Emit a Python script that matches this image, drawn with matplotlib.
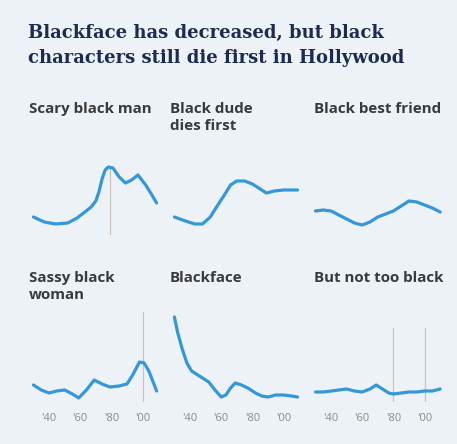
import matplotlib
matplotlib.use("Agg")
import matplotlib.pyplot as plt

# data (relative frequency, arbitrary units)
scary_years = [1930, 1937, 1944, 1952, 1958, 1963, 1967, 1970, 1972, 1974, 1976, 1978,
               1981, 1985, 1989, 1993, 1997, 2002, 2006, 2009]
scary_vals = [1.8, 1.3, 1.1, 1.2, 1.7, 2.3, 2.8, 3.4, 4.3, 5.6, 6.5, 6.8,
              6.7, 5.8, 5.2, 5.5, 6.0, 5.0, 4.0, 3.2]

dude_years = [1930, 1937, 1943, 1948, 1953, 1957, 1962, 1966, 1970, 1975, 1980,
              1985, 1989, 1994, 2000, 2005, 2009]
dude_vals = [1.8, 1.4, 1.1, 1.1, 1.8, 2.8, 4.0, 5.0, 5.4, 5.4, 5.1,
             4.6, 4.2, 4.4, 4.5, 4.5, 4.5]

friend_years = [1930, 1935, 1940, 1945, 1950, 1955, 1960, 1965, 1970, 1975, 1980,
                1985, 1990, 1995, 2000, 2005, 2010]
friend_vals = [2.4, 2.5, 2.4, 2.0, 1.6, 1.2, 1.0, 1.3, 1.8, 2.1, 2.4,
               2.9, 3.4, 3.3, 3.0, 2.7, 2.3]

sassy_years = [1930, 1935, 1940, 1945, 1950, 1955, 1959, 1964, 1969, 1974, 1979,
               1985, 1990, 1994, 1998, 2001, 2004, 2009]
sassy_vals = [1.7, 1.2, 0.9, 1.1, 1.2, 0.8, 0.4, 1.2, 2.2, 1.8, 1.5,
              1.6, 1.8, 2.8, 4.0, 3.9, 3.1, 1.1]

blackface_years = [1930, 1932, 1935, 1938, 1941, 1945, 1949, 1952, 1956, 1960, 1963,
                   1966, 1969, 1973, 1977, 1982, 1986, 1990, 1995, 2000, 2005, 2009]
blackface_vals = [8.5, 7.0, 5.3, 3.9, 3.1, 2.7, 2.3, 2.0, 1.2, 0.5, 0.7,
                  1.4, 1.9, 1.7, 1.4, 0.9, 0.6, 0.5, 0.7, 0.7, 0.6, 0.5]

nottoo_years = [1930, 1935, 1940, 1945, 1950, 1955, 1960, 1965, 1969, 1973, 1977,
                1980, 1985, 1990, 1995, 2000, 2005, 2010]
nottoo_vals = [1.0, 1.0, 1.1, 1.2, 1.3, 1.1, 1.0, 1.3, 1.7, 1.3, 0.9,
               0.8, 0.9, 1.0, 1.0, 1.1, 1.1, 1.3]

# reference lines (year, top value)
scary_marks = [(1979, 6.8)]
sassy_marks = [(2000, 9.0)]
nottoo_marks = [(1980, 7.4), (2000, 7.4)]

titles = [["Scary black man"], ["Black dude", "dies first"], ["Black best friend"],
          ["Sassy black", "woman"], ["Blackface"], ["But not too black"]]
tick_years = [1940, 1960, 1980, 2000]
tick_labels = ["'40", "'60", "'80", "'00"]

panels = [(scary_years, scary_vals, scary_marks),
          (dude_years, dude_vals, []),
          (friend_years, friend_vals, []),
          (sassy_years, sassy_vals, sassy_marks),
          (blackface_years, blackface_vals, []),
          (nottoo_years, nottoo_vals, nottoo_marks)]

BG = "#edf2f7"
BLUE = "#3497da"
W, H = 457, 444

fig = plt.figure(figsize=(W / 100, H / 100), dpi=100)
fig.patch.set_facecolor(BG)

col_left = [30.3, 171.3, 312.3]
col_w = 131
rows = [(160, 235, 7.5), (310, 402, 9.2)]   # top px, bottom px, ymax
title_base = [113, 282]

for i, (yrs, vals, marks) in enumerate(panels):
    r, c = divmod(i, 3)
    top, bot, ymax = rows[r]
    ax = fig.add_axes([col_left[c] / W, 1 - bot / H, col_w / W, (bot - top) / H])
    ax.set_facecolor("none")
    for yr, v in marks:
        ax.plot([yr, yr], [0, v], color="#c9c2bd", lw=0.9, zorder=1)
    ax.plot(yrs, vals, color=BLUE, lw=2.3, solid_capstyle="round",
            solid_joinstyle="round", zorder=2)
    ax.set_xlim(1928, 2012)
    ax.set_ylim(0, ymax)
    for s in ax.spines.values():
        s.set_visible(False)
    ax.set_yticks([])
    if r == 1:
        ax.set_xticks(tick_years)
        ax.set_xticklabels(tick_labels, fontsize=8, color="#8a8a8a",
                           family="Open Sans")
        ax.tick_params(axis="x", length=0, pad=8)
    else:
        ax.set_xticks([])
    # panel title lines
    tx = [29, 170, 314][c]
    for k, line in enumerate(titles[i]):
        fig.text(tx / W, 1 - (title_base[r] + 17 * k) / H, line,
                 fontsize=10.9, fontweight="bold", family="Open Sans",
                 color="#3a3a3a", va="baseline", ha="left")

fig.text(28 / W, 1 - 38 / H, "Blackface has decreased, but black",
         fontsize=13, fontweight="bold", family="DejaVu Serif",
         color="#1e2a52", va="baseline", ha="left")
fig.text(28 / W, 1 - 63 / H, "characters still die first in Hollywood",
         fontsize=13, fontweight="bold", family="DejaVu Serif",
         color="#1e2a52", va="baseline", ha="left")

fig.savefig("out.png", dpi=100, facecolor=BG)
